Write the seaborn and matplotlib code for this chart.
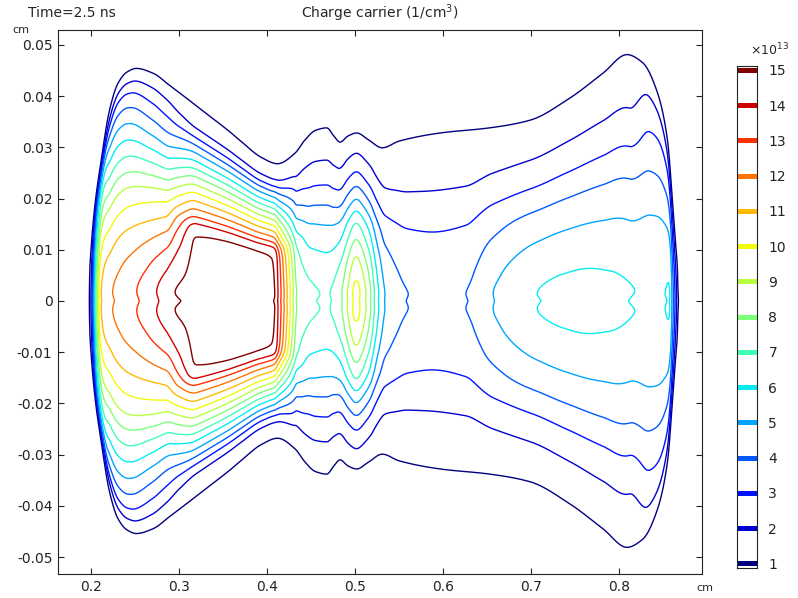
import numpy as np
import matplotlib
matplotlib.use("Agg")
import matplotlib.pyplot as plt
import seaborn as sns

levels = list(range(1, 16))

# carrier density (x1e13 1/cm3) read along the axis y = 0
x_centre = [0.185, 0.1925, 0.1977, 0.2115, 0.2246, 0.2520, 0.2746, 0.2955,
            0.3200, 0.3400, 0.3600, 0.3800, 0.3950, 0.4050, 0.4090, 0.4125,
            0.4160, 0.4195, 0.4230, 0.4265, 0.4300, 0.4335, 0.4450, 0.4580,
            0.4680, 0.4716, 0.4850, 0.4913, 0.4974, 0.5000, 0.5030, 0.5057,
            0.5125, 0.5180, 0.5220, 0.5270, 0.5340, 0.5606, 0.5920, 0.6260,
            0.6570, 0.7070, 0.7350, 0.7600, 0.7900, 0.8180, 0.8350, 0.8490,
            0.8540, 0.8560, 0.8583, 0.8600, 0.8618, 0.8637, 0.8655, 0.8674,
            0.8730]
n_centre = [0.0, 0.3, 1.0, 11.0, 12.0, 13.0, 14.0, 15.0,
            15.35, 15.48, 15.52, 15.50, 15.42, 15.25, 15.0, 14.0,
            13.0, 12.0, 11.0, 10.0, 9.0, 8.0, 7.35, 7.03,
            6.93, 7.0, 8.0, 9.0, 10.0, 10.3, 10.3, 10.0,
            9.0, 8.0, 7.0, 6.0, 5.0, 4.0, 3.85, 4.0,
            5.0, 6.0, 6.22, 6.28, 6.2, 6.0, 5.93, 5.96,
            6.03, 6.09, 6.0, 5.0, 4.0, 3.0, 2.0, 1.0,
            0.0]

# half height of the outermost (level 1) contour
x_edge = [0.1977, 0.1997, 0.2042, 0.2118, 0.2212, 0.2307, 0.2410, 0.2515,
          0.2700, 0.2900, 0.3333, 0.3580, 0.3710, 0.3940, 0.4120, 0.4320,
          0.4430, 0.4550, 0.4680, 0.4760, 0.4830, 0.4920, 0.5020, 0.5150,
          0.5310, 0.5500, 0.5970, 0.6530, 0.6990, 0.7440, 0.7820, 0.8090,
          0.8270, 0.8430, 0.8550, 0.8610, 0.8674, 0.8700]
half_width = [0.0, 0.0080, 0.0178, 0.0275, 0.0373, 0.0425, 0.0447, 0.0454,
              0.0445, 0.0420, 0.0363, 0.0330, 0.0311, 0.0280, 0.0268, 0.0289,
              0.0314, 0.0333, 0.0338, 0.0322, 0.0310, 0.0322, 0.0328, 0.0315,
              0.0299, 0.0312, 0.0328, 0.0338, 0.0353, 0.0396, 0.0445, 0.0481,
              0.0465, 0.0410, 0.0314, 0.0184, 0.0040, 0.0]

# cross-section shapes: fraction of (centre - 1) vs |y| / half height
u_shape = [0.00, 0.04, 0.15, 0.30, 0.36, 0.45, 0.60, 0.75, 0.90, 1.00, 1.10, 1.40]
shape_open = [0.99, 1.00, 0.948, 0.823, 0.757, 0.659, 0.436, 0.235, 0.088, 0.0, -0.10, -0.40]
shape_core = [0.99, 1.00, 0.996, 0.985, 0.955, 0.800, 0.548, 0.290, 0.055, 0.0, -0.10, -0.40]
shape_wall = [0.99, 1.00, 0.985, 0.930, 0.894, 0.840, 0.710, 0.560, 0.300, 0.0, -0.10, -0.40]

# where the core / wall shapes take over from the open one
x_mix = [0.19, 0.212, 0.222, 0.244, 0.27, 0.285, 0.30, 0.32, 0.405, 0.42,
         0.435, 0.45, 0.80, 0.812, 0.835, 0.85, 0.87]
mix_core = [0, 0, 0, 0, 0, 0, 0.45, 1.0, 1.0, 0.8, 0.5, 0, 0, 0, 0, 0, 0]
mix_wall = [1, 1, 0.6, 0.4, 0.15, 0.05, 0, 0, 0, 0, 0, 0, 0, 0, 0.5, 0.7, 0.8]

xlo, xhi = 0.1625, 0.894
ylo, yhi = -0.0533, 0.0529


def pchip(xn, yn, x):
    # monotone cubic through the read-off points
    xn = np.asarray(xn, float)
    yn = np.asarray(yn, float)
    h = np.diff(xn)
    d = np.diff(yn) / h
    m = np.zeros_like(yn)
    m[0], m[-1] = d[0], d[-1]
    for i in range(1, len(xn) - 1):
        if d[i - 1] * d[i] > 0:
            w1 = 2 * h[i] + h[i - 1]
            w2 = h[i] + 2 * h[i - 1]
            m[i] = (w1 + w2) / (w1 / d[i - 1] + w2 / d[i])
    x = np.clip(x, xn[0], xn[-1])
    i = np.clip(np.searchsorted(xn, x) - 1, 0, len(h) - 1)
    t = (x - xn[i]) / h[i]
    t2, t3 = t * t, t * t * t
    return ((2 * t3 - 3 * t2 + 1) * yn[i] + (t3 - 2 * t2 + t) * h[i] * m[i]
            + (-2 * t3 + 3 * t2) * yn[i + 1] + (t3 - t2) * h[i] * m[i + 1])


def smooth(a, axis, sigma):
    r = int(3 * sigma) + 1
    k = np.exp(-0.5 * (np.arange(-r, r + 1) / sigma) ** 2)
    k /= k.sum()
    return np.apply_along_axis(lambda v: np.convolve(v, k, mode='same'), axis, a)


xs = np.linspace(xlo, xhi, 1600)
ys = np.linspace(ylo, yhi, 900)
C = pchip(x_centre, n_centre, xs)
H = np.maximum(pchip(x_edge, half_width, xs), 1e-5)
wc = pchip(x_mix, mix_core, xs)
ww = pchip(x_mix, mix_wall, xs)

X, Y = np.meshgrid(xs, ys)
U = np.abs(Y) / H[None, :]
G = ((1 - wc - ww)[None, :] * pchip(u_shape, shape_open, U)
     + wc[None, :] * pchip(u_shape, shape_core, U)
     + ww[None, :] * pchip(u_shape, shape_wall, U))
Cg = C[None, :]
N = np.where(Cg >= 1, 1 + (Cg - 1) * G, Cg * np.clip(G, 0, 1))
N = smooth(smooth(N, 1, 1.5), 0, 1.5)

sns.set_style("ticks")
plt.rcParams['font.family'] = ['DejaVu Sans']
plt.rcParams['axes.unicode_minus'] = False

cmap = matplotlib.colormaps['jet']
colors = [cmap(i / 14) for i in range(15)]

fig = plt.figure(figsize=(7.98, 5.98), dpi=100)
ax = fig.add_axes([58 / 798, 1 - 574 / 598, (701.7 - 58) / 798, (574 - 30) / 598])
ax.contour(X, Y, N, levels=levels, colors=colors, linewidths=1.0)

ax.set_xlim(xlo, xhi)
ax.set_ylim(ylo, yhi)
xt = [0.2, 0.3, 0.4, 0.5, 0.6, 0.7, 0.8]
yt = [0.05, 0.04, 0.03, 0.02, 0.01, 0, -0.01, -0.02, -0.03, -0.04, -0.05]
ax.set_xticks(xt)
ax.set_xticklabels([f"{v:g}" for v in xt])
ax.set_yticks(yt)
ax.set_yticklabels([f"{v:g}" for v in yt])
ax.tick_params(direction='in', length=4, width=0.8, top=True, right=True,
               labelsize=10, colors='#222222', pad=4)
for s in ax.spines.values():
    s.set_linewidth(0.8)
    s.set_color('#222222')

ax.set_title("Charge carrier (1/cm$^3$)", fontsize=10, pad=9)
fig.text(28 / 798, 1 - 13 / 598, "Time=2.5 ns", fontsize=10, va='center', ha='left')
fig.text(12 / 798, 1 - 30 / 598, "cm", fontsize=8, va='center', ha='left')
fig.text(696 / 798, 1 - 588 / 598, "cm", fontsize=8, va='center', ha='left')

# legend column in the COMSOL style
cb = fig.add_axes([737.3 / 798, 1 - 568 / 598, 20 / 798, 502.3 / 598])
cb.hlines(levels, 0, 1, colors=colors, linewidth=3.6)
cb.set_xlim(0, 1)
cb.set_ylim(0.87, 15.12)
cb.set_xticks([])
cb.set_yticks(levels)
cb.set_yticklabels([str(v) for v in levels])
cb.yaxis.tick_right()
cb.tick_params(axis='y', direction='in', length=3, width=0.8, left=True, right=True,
               labelleft=False, labelright=True, labelsize=10, pad=8, colors='#222222')
for s in cb.spines.values():
    s.set_linewidth(0.8)
    s.set_color('#222222')
fig.text(750 / 798, 1 - 50 / 598, r"$\times$10$^{13}$", fontsize=9, va='center', ha='left')

fig.savefig("out.png", dpi=100, facecolor="white")
